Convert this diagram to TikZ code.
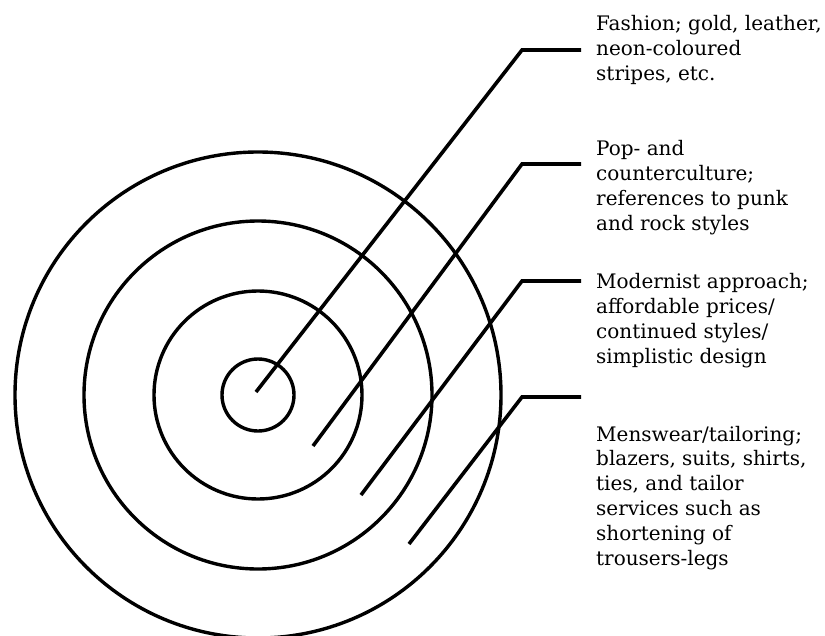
\documentclass[tikz,border=0pt]{standalone}
\usepackage{fontspec}
\setmainfont{DejaVu Serif}
\usetikzlibrary{positioning}

\tikzset{
  ring/.style={line width=3.4pt},
  leader/.style={line width=3.6pt, line join=miter},
  note/.style={anchor=base west, inner sep=0pt, align=left,
    font=\fontsize{20}{24.8}\selectfont}
}

\begin{document}
\begin{tikzpicture}[x=1pt,y=-1pt]
    \useasboundingbox (0,0) rectangle (825,635);

    % Draw the rings
    \coordinate (centre) at (258,395);
    \foreach \r in {36,104,174,243} \draw[ring] (centre) circle[radius=\r pt];

    % Labels (placed by the baseline of their last line)
    \node[note] (fashion) at (596,80) {Fashion; gold, leather,\\neon-coloured\\stripes, etc.};
    \node[note] (pop) at (596,230) {Pop- and\\counterculture;\\references to punk\\and rock styles};
    \node[note] (modern) at (596,363) {Modernist approach;\\affordable prices/\\continued styles/\\simplistic design};
    \node[note] (mens) at (596,565) {Menswear/tailoring;\\blazers, suits, shirts,\\ties, and tailor\\services such as\\shortening of\\trousers-legs};

    % Leaders from the rings to the labels
    \coordinate (s1) at (256,392); \coordinate (k1) at (522,50);  \coordinate (e1) at (581,50);
    \coordinate (s2) at (313,446); \coordinate (k2) at (522,164); \coordinate (e2) at (581,164);
    \coordinate (s3) at (361,495); \coordinate (k3) at (522,281); \coordinate (e3) at (581,281);
    \coordinate (s4) at (409,544); \coordinate (k4) at (522,397); \coordinate (e4) at (581,397);
    \foreach \i in {1,...,4} \draw[leader] (s\i) -- (k\i) -- (e\i);
\end{tikzpicture}
\end{document}
